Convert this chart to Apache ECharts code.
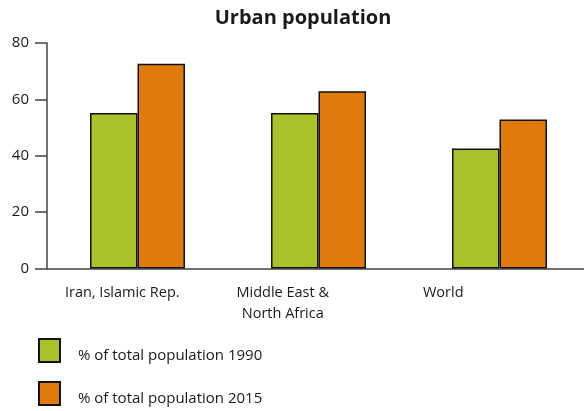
<!DOCTYPE html>
<html>
<head>
<meta charset="utf-8">
<script src="https://cdn.jsdelivr.net/npm/echarts@6/dist/echarts.min.js"></script>
<style>
  html, body { margin: 0; padding: 0; background: #fff; }
  #chart { width: 584px; height: 411px; }
</style>
</head>
<body>
<div id="chart"></div>
<script>
// Urban population, % of total population
const categories = ['Iran, Islamic Rep.', 'Middle East &\nNorth Africa', 'World'];
const pop1990 = [55.2, 55.2, 42.6];
const pop2015 = [72.6, 62.9, 52.9];
const seriesNames = ['% of total population 1990', '% of total population 2015'];
const yTicks = [0, 20, 40, 60, 80];

const FONT = '"Open Sans", "Noto Sans", sans-serif';
const INK = '#1a1a1a';
const AXIS = '#444';

const chart = echarts.init(document.getElementById('chart'), null, { renderer: 'canvas' });

// One legend box per series, stacked vertically under the plot
const legendBox = (name, top) => ({
  orient: 'vertical',
  left: 33,
  top: top,
  padding: 5,
  itemWidth: 21,
  itemHeight: 23,
  icon: 'rect',
  data: [name],
  formatter: '{t|{name}}',
  textStyle: {
    fontFamily: FONT, fontSize: 15, color: INK,
    rich: { t: { fontFamily: FONT, fontSize: 15, color: INK, padding: [11, 0, 0, 13] } }
  }
});

chart.setOption({
  animation: false,
  backgroundColor: '#fff',
  title: {
    text: 'Urban population',
    left: 298,
    top: 3,
    textAlign: 'center',
    textStyle: { fontFamily: FONT, fontSize: 20, fontWeight: 'bold', color: INK }
  },
  legend: [
    legendBox(seriesNames[0], 333),
    legendBox(seriesNames[1], 376)
  ],
  grid: [
    { left: 47, width: 543, top: 43, height: 225.5, containLabel: false, outerBoundsMode: 'none' },
    { left: 42, width: 481.5, top: 43, height: 225.5, containLabel: false, outerBoundsMode: 'none' }
  ],
  xAxis: [
    {
      type: 'category',
      gridIndex: 0,
      data: categories,
      axisLine: { show: true, lineStyle: { color: AXIS, width: 1.5 } },
      axisTick: { show: false },
      axisLabel: { show: false }
    },
    {
      type: 'category',
      gridIndex: 1,
      data: categories,
      axisLine: { show: false },
      axisTick: { show: false },
      axisLabel: {
        show: true,
        margin: 14,
        fontFamily: FONT,
        fontSize: 14.5,
        color: INK,
        lineHeight: 21,
        verticalAlign: 'top'
      }
    }
  ],
  yAxis: [
    {
      type: 'value',
      gridIndex: 0,
      min: yTicks[0],
      max: yTicks[yTicks.length - 1],
      interval: 20,
      splitLine: { show: false },
      axisLine: { show: true, lineStyle: { color: AXIS, width: 1.5 } },
      axisTick: { show: true, length: 12, lineStyle: { color: AXIS, width: 1.5 } },
      axisLabel: { margin: 18, fontFamily: FONT, fontSize: 15, color: INK }
    },
    {
      type: 'value',
      gridIndex: 1,
      min: 0,
      max: 80,
      show: false
    }
  ],
  series: [
    {
      name: seriesNames[0],
      type: 'bar',
      xAxisIndex: 0,
      yAxisIndex: 0,
      data: pop1990,
      barWidth: 47.5,
      barGap: '0%',
      itemStyle: { color: '#a8c22a', borderColor: '#111', borderWidth: 1.5 }
    },
    {
      name: seriesNames[1],
      type: 'bar',
      xAxisIndex: 0,
      yAxisIndex: 0,
      data: pop2015,
      barWidth: 47.5,
      barGap: '0%',
      itemStyle: { color: '#e07b0b', borderColor: '#111', borderWidth: 1.5 }
    }
  ]
});
</script>
</body>
</html>
